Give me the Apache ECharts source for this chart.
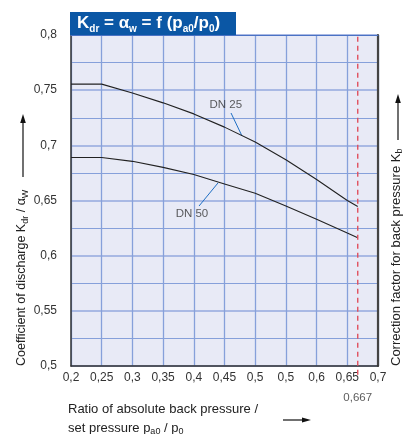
<!DOCTYPE html>
<html>
<head>
<meta charset="utf-8">
<script src="https://cdn.jsdelivr.net/npm/echarts@6/dist/echarts.min.js"></script>
<style>html,body{margin:0;padding:0;background:#fff}#c{width:407px;height:434px}</style>
</head>
<body>
<div id="c"></div>
<script>
// ---- data ----
var xTickValues = [0.2, 0.25, 0.3, 0.35, 0.4, 0.45, 0.5, 0.55, 0.6, 0.65, 0.7];
var xTickLabels = ['0,2', '0,25', '0,3', '0,35', '0,4', '0,45', '0,5', '0,5', '0,6', '0,65', '0,7'];
var yTickValues = [0.5, 0.55, 0.6, 0.65, 0.7, 0.75, 0.8];
var yTickLabels = ['0,5', '0,55', '0,6', '0,65', '0,7', '0,75', '0,8'];
var ratio = [0.2, 0.25, 0.3, 0.35, 0.4, 0.45, 0.5, 0.55, 0.6, 0.65, 0.667];
var dn25 = [0.7555, 0.7555, 0.7475, 0.7385, 0.7285, 0.7165, 0.703, 0.687, 0.669, 0.650, 0.6445];
var dn50 = [0.689, 0.689, 0.6855, 0.680, 0.6735, 0.665, 0.6565, 0.645, 0.633, 0.6205, 0.6163];
var limitRatio = 0.667;
var limitLabel = '0,667';
var dn25Label = {name: 'DN 25', at: [0.452, 0.7366], leader: [[0.4606, 0.7293], [0.4785, 0.7085]]};
var dn50Label = {name: 'DN 50', at: [0.397, 0.6378], leader: [[0.4085, 0.645], [0.4394, 0.6659]]};

var FONT = '"Liberation Sans", Arial, sans-serif';
function pair(xs, ys) { return xs.map(function (x, i) { return [x, ys[i]]; }); }
function lookup(vals, labels, v) {
  for (var i = 0; i < vals.length; i++) if (Math.abs(vals[i] - v) < 1e-6) return labels[i];
  return '';
}

var chart = echarts.init(document.getElementById('c'), null, {renderer: 'canvas'});
var option = {
  backgroundColor: '#fff',
  animation: false,
  grid: {left: 71, right: 29, top: 35, bottom: 68, show: true, backgroundColor: '#e8eaf6', borderWidth: 0},
  xAxis: [{
    type: 'value', min: 0.2, max: 0.7, interval: 0.05, position: 'bottom',
    axisLine: {show: true, onZero: false, lineStyle: {color: '#333', width: 1.5}},
    axisTick: {show: false},
    axisLabel: {color: '#333', fontSize: 12, fontFamily: FONT, margin: 6,
      formatter: function (v) { return lookup(xTickValues, xTickLabels, v); }},
    splitLine: {show: true, lineStyle: {color: '#86a0da', width: 1.3}}
  }, {
    type: 'value', min: 0.2, max: 0.7, position: 'top',
    axisLine: {show: true, lineStyle: {color: '#4a72c4', width: 1}},
    axisTick: {show: false}, axisLabel: {show: false}, splitLine: {show: false}
  }],
  yAxis: [{
    type: 'value', min: 0.5, max: 0.8, interval: 0.05, position: 'left',
    axisLine: {show: true, onZero: false, lineStyle: {color: '#333', width: 1.5}},
    axisTick: {show: false},
    axisLabel: {color: '#333', fontSize: 12, fontFamily: FONT, margin: 14,
      formatter: function (v) { return lookup(yTickValues, yTickLabels, v); }},
    splitLine: {show: true, lineStyle: {color: '#a9b9e4', width: 2.2}},
    minorTick: {show: false, splitNumber: 2},
    minorSplitLine: {show: true, lineStyle: {color: '#86a0da', width: 1}}
  }, {
    type: 'value', min: 0.5, max: 0.8, position: 'right',
    axisLine: {show: true, lineStyle: {color: '#444', width: 2.2}},
    axisTick: {show: false}, axisLabel: {show: false}, splitLine: {show: false}
  }],
  series: [
    {type: 'line', data: pair(ratio, dn25), symbol: 'none', lineStyle: {color: '#222', width: 1.1}, z: 5},
    {type: 'line', data: pair(ratio, dn50), symbol: 'none', lineStyle: {color: '#222', width: 1.1}, z: 5},
    {type: 'line', data: [[limitRatio, 0.492], [limitRatio, 0.8]], symbol: 'none', clip: false,
      lineStyle: {color: '#e0505e', width: 1.4, type: [5, 4]}, z: 6},
    {type: 'line', data: dn25Label.leader, symbol: 'none', lineStyle: {color: '#1f6fc4', width: 1}, z: 4},
    {type: 'line', data: dn50Label.leader, symbol: 'none', lineStyle: {color: '#1f6fc4', width: 1}, z: 4},
    {type: 'scatter', symbolSize: 0, clip: false, z: 7,
      data: [
        {name: dn25Label.name, value: dn25Label.at},
        {name: dn50Label.name, value: dn50Label.at},
        {name: limitLabel, value: [limitRatio, 0.4715]}
      ],
      label: {show: true, position: 'inside', formatter: '{b}', color: '#333', fontSize: 11.5, fontFamily: FONT,
        backgroundColor: 'transparent'}}
  ],
  graphic: [
    {type: 'rect', shape: {x: 70, y: 12, width: 166, height: 23}, style: {fill: '#0b57a5'}, z: 100},
    {type: 'text', x: 77, y: 13, z: 101, style: {
      text: '{b|K}{s|dr}{b| = α}{s|w}{b| = f (p}{s|a0}{b|/p}{s|0}{b|)}',
      rich: {
        b: {fontSize: 17, fontWeight: 'bold', fill: '#fff', lineHeight: 21, fontFamily: FONT},
        s: {fontSize: 10, fontWeight: 'bold', fill: '#fff', lineHeight: 11, verticalAlign: 'bottom', fontFamily: FONT}
      }}},
    {type: 'text', x: 22, y: 366, rotation: Math.PI / 2, z: 50, style: {
      text: '{n|Coefficient of discharge K}{s|dr}{n| / α}{s|W}',
      align: 'left', verticalAlign: 'middle',
      rich: {
        n: {fontSize: 12.5, fill: '#222', lineHeight: 16, fontFamily: FONT},
        s: {fontSize: 9, fill: '#222', lineHeight: 9, verticalAlign: 'bottom', fontFamily: FONT}
      }}},
    {type: 'line', z: 50, shape: {x1: 23, y1: 177, x2: 23, y2: 122}, style: {stroke: '#111', lineWidth: 1.2}},
    {type: 'polygon', z: 50, shape: {points: [[23, 114], [20.2, 123], [25.8, 123]]}, style: {fill: '#111'}},
    {type: 'text', x: 396, y: 366, rotation: Math.PI / 2, z: 50, style: {
      text: '{n|Correction factor for back pressure K}{s|b}',
      align: 'left', verticalAlign: 'middle',
      rich: {
        n: {fontSize: 13, fill: '#222', lineHeight: 16, fontFamily: FONT},
        s: {fontSize: 9, fill: '#222', lineHeight: 9, verticalAlign: 'bottom', fontFamily: FONT}
      }}},
    {type: 'line', z: 50, shape: {x1: 398, y1: 140, x2: 398, y2: 102}, style: {stroke: '#111', lineWidth: 1.2}},
    {type: 'polygon', z: 50, shape: {points: [[398, 94], [395.2, 103], [400.8, 103]]}, style: {fill: '#111'}},
    {type: 'text', x: 68, y: 403, z: 50, style: {
      text: 'Ratio of absolute back pressure /', fontSize: 13, fill: '#222', fontFamily: FONT}},
    {type: 'text', x: 68, y: 420, z: 50, style: {
      text: '{n|set pressure p}{s|a0}{n| / p}{s|0}',
      rich: {
        n: {fontSize: 13, fill: '#222', lineHeight: 16, fontFamily: FONT},
        s: {fontSize: 9, fill: '#222', lineHeight: 9, verticalAlign: 'bottom', fontFamily: FONT}
      }}},
    {type: 'line', z: 50, shape: {x1: 283, y1: 420, x2: 303, y2: 420}, style: {stroke: '#111', lineWidth: 1.2}},
    {type: 'polygon', z: 50, shape: {points: [[311, 420], [302, 417.4], [302, 422.6]]}, style: {fill: '#111'}}
  ]
};
chart.setOption(option);
</script>
</body>
</html>
